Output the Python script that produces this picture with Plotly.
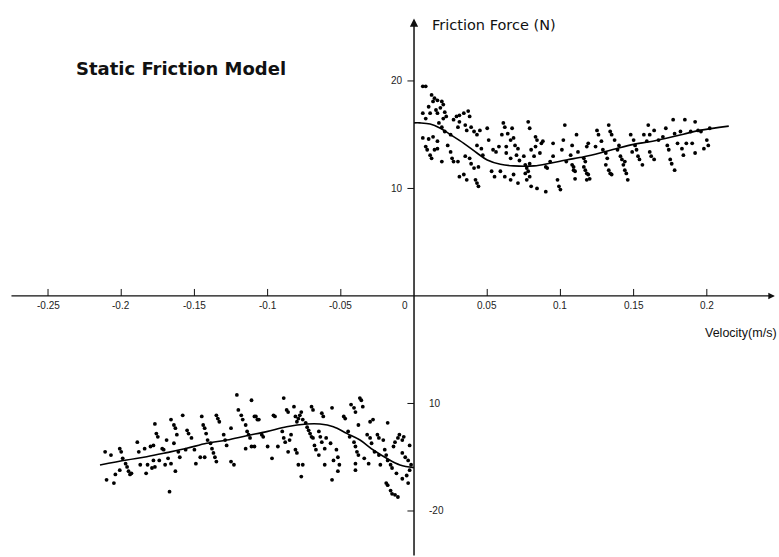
import plotly.graph_objects as go

# ---------------- data ----------------
# fitted model curve, positive velocity branch
curve_pos_v = [0.000, 0.004, 0.011, 0.018, 0.025, 0.034, 0.043, 0.050, 0.059, 0.068, 0.082,
               0.093, 0.104, 0.116, 0.127, 0.138, 0.150, 0.161, 0.173, 0.184, 0.195, 0.215]
curve_pos_f = [16.1, 16.1, 16.0, 15.6, 15.0, 14.2, 13.3, 12.65, 12.25, 12.1, 12.1,
               12.35, 12.65, 12.95, 13.3, 13.7, 14.1, 14.35, 14.7, 15.05, 15.4, 15.8]
# fitted model curve, negative velocity branch
curve_neg_v = [-0.2145, -0.1963, -0.1826, -0.1689, -0.1553, -0.1416, -0.1279, -0.1143, -0.1006,
               -0.087, -0.0733, -0.0642, -0.0551, -0.046, -0.0369, -0.0278, -0.0187, -0.0096, 0.0]
curve_neg_f = [-15.72, -15.26, -14.95, -14.57, -14.17, -13.7, -13.4, -13.0, -12.62,
               -12.16, -11.91, -11.91, -12.16, -12.78, -13.4, -14.33, -15.1, -15.72, -15.97]

# measured points, positive velocity
v_pos = [0.006, 0.008, 0.012, 0.014, 0.016, 0.013, 0.019, 0.020, 0.018, 0.010, 0.015, 0.016, 0.021,
         0.006, 0.008, 0.011, 0.020, 0.022, 0.029, 0.031, 0.034, 0.037, 0.038, 0.027, 0.031, 0.030,
         0.035, 0.036, 0.039, 0.041, 0.043, 0.045, 0.050, 0.017, 0.019, 0.021, 0.025, 0.006, 0.010,
         0.013, 0.016, 0.008, 0.009, 0.011, 0.012, 0.014, 0.016, 0.023, 0.025, 0.026, 0.027, 0.019,
         0.030, 0.035, 0.038, 0.041, 0.039, 0.044, 0.043, 0.046, 0.047, 0.051, 0.054, 0.056, 0.058,
         0.060, 0.061, 0.062, 0.064, 0.066, 0.067, 0.068, 0.069, 0.071, 0.070, 0.063, 0.063, 0.066,
         0.053, 0.055, 0.059, 0.062, 0.066, 0.068, 0.031, 0.034, 0.036, 0.042, 0.043, 0.044, 0.072,
         0.075, 0.076, 0.077, 0.078, 0.079, 0.080, 0.082, 0.083, 0.084, 0.086, 0.087, 0.088, 0.090,
         0.091, 0.093, 0.095, 0.095, 0.078, 0.079, 0.083, 0.076, 0.077, 0.079, 0.080, 0.084, 0.090,
         0.071, 0.098, 0.099, 0.100, 0.101, 0.102, 0.103, 0.104, 0.108, 0.109, 0.107,
         0.108, 0.109, 0.110, 0.110, 0.111, 0.112, 0.116, 0.117, 0.116, 0.117, 0.118, 0.119, 0.118,
         0.120, 0.119, 0.118, 0.124, 0.125, 0.126, 0.128, 0.129, 0.131, 0.132, 0.131, 0.133, 0.134,
         0.135, 0.133, 0.134, 0.135, 0.137, 0.140, 0.139, 0.141, 0.142, 0.143, 0.144, 0.145, 0.144,
         0.146, 0.148, 0.150, 0.151, 0.149, 0.152, 0.153, 0.154, 0.156, 0.157, 0.160, 0.161, 0.164,
         0.159, 0.161, 0.162, 0.164, 0.167, 0.170, 0.172, 0.173, 0.174, 0.175, 0.176, 0.178, 0.177,
         0.178, 0.182, 0.180, 0.183, 0.184, 0.186, 0.189, 0.190, 0.185, 0.192, 0.192, 0.194, 0.196,
         0.198, 0.200, 0.201, 0.202]
f_pos = [19.5, 19.5, 18.7, 18.4, 18.2, 18.1, 18.1, 17.8, 17.5, 17.6, 17.3, 17.0, 17.1,
         17.0, 16.5, 17.0, 16.5, 16.7, 16.7, 16.8, 17.0, 17.2, 16.7, 16.4, 16.2, 15.7,
         15.9, 15.4, 15.7, 15.3, 15.0, 15.4, 15.6, 16.1, 15.7, 15.3, 15.0, 14.7, 14.6,
         14.8, 14.4, 13.9, 13.6, 13.1, 12.8, 13.6, 13.7, 14.0, 13.4, 12.8, 12.5, 12.5,
         12.5, 13.0, 12.8, 11.9, 12.3, 12.0, 14.0, 13.7, 13.1, 14.5, 13.6, 13.4, 13.9,
         15.0, 16.1, 15.7, 15.1, 14.5, 15.6, 14.7, 14.0, 13.7, 13.1, 13.9, 13.3, 12.8,
         11.6, 11.1, 11.6, 11.1, 10.8, 11.3, 11.1, 11.3, 10.8, 10.8, 10.5, 10.2, 12.6,
         13.0, 12.2, 11.9, 11.6, 12.3, 13.6, 13.0, 13.9, 14.5, 13.3, 14.2, 14.4, 12.0,
         11.9, 12.5, 14.2, 13.0, 16.2, 15.6, 14.8, 11.4, 10.8, 11.1, 10.2, 10.0, 9.7,
         10.5, 10.8, 10.2, 9.9, 13.6, 14.5, 15.9, 12.5, 12.2, 11.7, 13.1,
         14.0, 12.0, 11.6, 10.9, 15.0, 13.4, 12.8, 12.5, 12.0, 11.7, 11.4, 11.3, 10.8,
         10.9, 14.2, 13.9, 13.9, 15.4, 15.0, 14.4, 13.6, 13.3, 12.8, 12.2, 11.7, 11.4,
         11.3, 15.9, 15.3, 15.0, 14.5, 14.0, 13.6, 13.0, 12.7, 12.2, 11.7, 11.4, 12.5,
         10.8, 15.0, 14.5, 14.0, 13.4, 13.6, 13.0, 12.7, 12.2, 15.0, 15.9, 15.0, 15.4,
         14.4, 13.4, 13.0, 12.7, 14.5, 14.8, 15.6, 14.0, 13.6, 12.7, 12.3, 11.7, 16.4,
         15.1, 15.3, 14.2, 13.7, 13.1, 14.2, 15.3, 14.2, 16.4, 16.2, 13.3, 15.4, 15.3,
         13.7, 14.5, 14.0, 15.6]

# measured points, negative velocity
v_neg = [-0.211, -0.210, -0.207, -0.205, -0.204, -0.201, -0.200, -0.199, -0.197, -0.196, -0.195,
         -0.194, -0.193, -0.201, -0.189, -0.188, -0.187, -0.184, -0.183, -0.182, -0.180, -0.178,
         -0.179, -0.177, -0.178, -0.177, -0.176, -0.175, -0.174, -0.172, -0.171, -0.170, -0.169,
         -0.168, -0.166, -0.163, -0.167, -0.166, -0.164, -0.163, -0.162, -0.164, -0.161, -0.160,
         -0.158, -0.156, -0.155, -0.154, -0.152, -0.150, -0.149, -0.146, -0.145, -0.144, -0.143,
         -0.142, -0.141, -0.139, -0.138, -0.137, -0.136, -0.135, -0.143, -0.135, -0.134, -0.133,
         -0.130, -0.129, -0.128, -0.125, -0.125, -0.123, -0.121, -0.120, -0.118, -0.117, -0.115,
         -0.114, -0.113, -0.112, -0.115, -0.111, -0.109, -0.111, -0.107,
         -0.108, -0.106, -0.104, -0.103, -0.109, -0.100, -0.097, -0.096, -0.095, -0.093, -0.090,
         -0.089, -0.088, -0.086, -0.085, -0.084, -0.089, -0.087, -0.086, -0.082, -0.081, -0.080,
         -0.079, -0.078, -0.077, -0.076, -0.074, -0.073, -0.072, -0.071, -0.070, -0.069, -0.068,
         -0.067, -0.065, -0.076, -0.079, -0.077, -0.080, -0.081, -0.070, -0.069, -0.063, -0.062,
         -0.065, -0.064, -0.063, -0.061, -0.060, -0.057, -0.056, -0.053, -0.052, -0.055, -0.052,
         -0.051, -0.061, -0.056, -0.048, -0.047, -0.045, -0.044, -0.043, -0.041, -0.040, -0.038,
         -0.036, -0.037, -0.035, -0.041, -0.040, -0.039, -0.038, -0.040, -0.040, -0.034, -0.031,
         -0.032, -0.030, -0.029, -0.030, -0.028, -0.025, -0.024, -0.027, -0.024, -0.023, -0.021,
         -0.020, -0.019, -0.018, -0.018, -0.016, -0.015, -0.014, -0.013, -0.011, -0.010, -0.008,
         -0.007, -0.008, -0.006, -0.004, -0.003, -0.012, -0.008, -0.005, -0.004, -0.018, -0.016,
         -0.015, -0.013, -0.011, -0.019, -0.003, -0.002]
f_neg = [-14.5, -17.1, -14.8, -17.4, -16.6, -14.2, -14.5, -15.1, -15.6, -15.9, -16.3,
         -16.6, -16.5, -16.2, -13.6, -14.5, -15.7, -14.2, -16.5, -15.7, -14.0, -13.9,
         -16.0, -15.9, -15.3, -11.9, -12.8, -13.1, -15.3, -14.2, -14.3, -15.7, -13.4,
         -15.1, -15.6, -16.3, -18.2, -11.5, -12.0, -12.3, -12.9, -13.7, -14.5, -15.0,
         -11.1, -14.3, -12.5, -12.8, -13.2, -14.3, -15.6, -15.0, -11.2, -12.0, -12.3,
         -12.8, -13.4, -13.7, -14.2, -14.6, -15.0, -15.4, -15.0, -11.1, -11.4, -11.7,
         -12.9, -13.4, -13.9, -12.3, -15.4, -15.7, -9.2, -10.6, -11.1, -11.5, -12.0,
         -12.6, -12.9, -13.2, -14.2, -9.7, -11.2, -14.0, -11.5,
         -11.2, -11.5, -12.9, -13.1, -14.0, -14.0, -15.1, -11.1, -11.2, -14.0, -12.6,
         -13.2, -13.6, -14.5, -13.4, -12.9, -9.5, -10.6, -10.8, -10.3, -11.2, -11.7,
         -11.4, -11.1, -10.8, -11.5, -11.8, -12.2, -12.5, -12.8, -13.1, -13.2, -13.9,
         -14.3, -14.8, -15.7, -15.7, -16.8, -14.6, -14.3, -10.3, -10.6, -10.9, -11.2,
         -12.6, -13.1, -13.6, -14.2, -13.2, -13.7, -10.4, -14.3, -15.0, -15.3, -16.3,
         -15.7, -15.7, -17.1, -11.2, -11.4, -12.6, -13.1, -10.1, -10.4, -10.8, -12.0,
         -9.7, -9.5, -10.3, -13.6, -14.0, -14.5, -14.8, -15.6, -16.2, -15.1, -15.6,
         -12.9, -13.2, -13.7, -11.7, -11.5, -12.9, -13.2, -14.5, -14.8, -15.7, -13.4,
         -14.3, -14.8, -11.8, -15.3, -15.7, -16.0, -14.0, -13.6, -13.2, -12.9, -13.4,
         -13.1, -14.6, -15.0, -15.3, -13.9, -16.5, -17.0, -16.7, -17.4, -17.6, -18.1,
         -18.4, -18.5, -18.7, -17.4, -16.2, -15.7]

# axis ticks
x_ticks = [-0.25, -0.2, -0.15, -0.1, -0.05, 0.05, 0.1, 0.15, 0.2]
x_tick_labels = ["-0.25", "-0.2", "-0.15", "-0.1", "-0.05", "0.05", "0.1", "0.15", "0.2"]
y_ticks = [20, 10, -10, -20]
y_tick_labels = ["20", "10", "10", "-20"]

title_text = "Static Friction Model"
y_title = "Friction Force (N)"
x_title = "Velocity(m/s)"

# ---------------- figure ----------------
X_RANGE = [-0.2828, 0.2493]
Y_RANGE = [-24.28, 27.53]
FONT = "Liberation Sans, Arial, sans-serif"
WIDE = "DejaVu Sans, Verdana, sans-serif"
INK = "#111111"

fig = go.Figure()

fig.add_trace(go.Scatter(x=v_pos, y=f_pos, mode="markers",
                         marker=dict(size=3.8, color="black"), hoverinfo="skip"))
fig.add_trace(go.Scatter(x=v_neg, y=f_neg, mode="markers",
                         marker=dict(size=3.8, color="black"), hoverinfo="skip"))
fig.add_trace(go.Scatter(x=curve_pos_v, y=curve_pos_f, mode="lines",
                         line=dict(color="black", width=1.6, shape="spline"), hoverinfo="skip"))
fig.add_trace(go.Scatter(x=curve_neg_v, y=curve_neg_f, mode="lines",
                         line=dict(color="black", width=1.6, shape="spline"), hoverinfo="skip"))

annotations = []
shapes = []

# x axis with arrow
annotations.append(dict(x=0.2465, y=0, ax=-0.276, ay=0, xref="x", yref="y", axref="x", ayref="y",
                        showarrow=True, arrowhead=2, arrowsize=1.1, arrowwidth=1.2,
                        arrowcolor=INK, text=""))
# y axis with arrow
annotations.append(dict(x=0, y=25.8, ax=0, ay=Y_RANGE[0], xref="x", yref="y", axref="x", ayref="y",
                        showarrow=True, arrowhead=2, arrowsize=1.1, arrowwidth=1.5,
                        arrowcolor=INK, text=""))

TICKFONT = dict(family=FONT, size=10, color="#222222")

# x ticks and labels
for v, lab in zip(x_ticks, x_tick_labels):
    shapes.append(dict(type="line", xref="x", yref="y", x0=v, x1=v, y0=0, y1=0.65,
                       line=dict(color=INK, width=1)))
    annotations.append(dict(x=v, y=-0.9, xref="x", yref="y", text=lab, showarrow=False,
                            font=TICKFONT, xanchor="center", yanchor="middle"))
annotations.append(dict(x=-0.006, y=-0.9, xref="x", yref="y", text="0", showarrow=False,
                        font=TICKFONT, xanchor="center", yanchor="middle"))

# y ticks and labels
for f, lab in zip(y_ticks, y_tick_labels):
    shapes.append(dict(type="line", xref="x", yref="y", x0=-0.0045, x1=0, y0=f, y1=f,
                       line=dict(color=INK, width=1)))
    if f > 0:
        annotations.append(dict(x=-0.0065, y=f, xref="x", yref="y", text=lab, showarrow=False,
                                font=TICKFONT, xanchor="right", yanchor="middle"))
    else:
        annotations.append(dict(x=0.009, y=f, xref="x", yref="y", text=lab, showarrow=False,
                                font=TICKFONT, xanchor="left", yanchor="middle"))

# titles
annotations.append(dict(x=74 / 779, y=1 - 68 / 557, xref="paper", yref="paper", text="<b>" + title_text + "</b>",
                        showarrow=False, font=dict(family=WIDE, size=18, color=INK),
                        xanchor="left", yanchor="middle"))
annotations.append(dict(x=430 / 779, y=1 - 25 / 557, xref="paper", yref="paper", text=y_title,
                        showarrow=False, font=dict(family=WIDE, size=14.5, color=INK),
                        xanchor="left", yanchor="middle"))
annotations.append(dict(x=1.0, y=1 - 333 / 557, xref="paper", yref="paper", text=x_title,
                        showarrow=False, font=dict(family=FONT, size=12.5, color=INK),
                        xanchor="right", yanchor="middle"))

fig.update_layout(
    width=779, height=557,
    margin=dict(l=0, r=0, t=0, b=0),
    paper_bgcolor="white", plot_bgcolor="white",
    showlegend=False,
    xaxis=dict(range=X_RANGE, visible=False, fixedrange=True),
    yaxis=dict(range=Y_RANGE, visible=False, fixedrange=True),
    annotations=annotations,
    shapes=shapes,
)

fig.write_html("out.html")
